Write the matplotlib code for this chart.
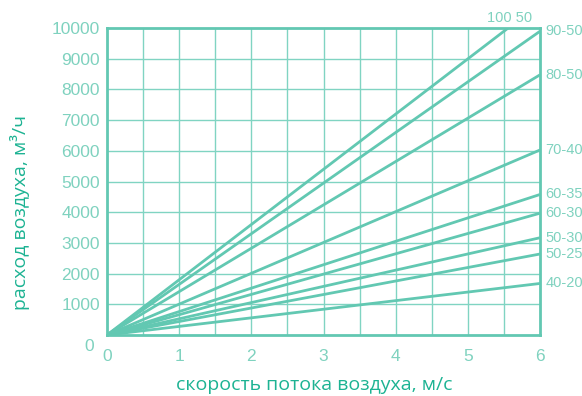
import matplotlib
matplotlib.use("Agg")
import matplotlib.pyplot as plt
import matplotlib.transforms as mtransforms

# duct sizes and air flow at 6 m/s (m3/h)
ducts = ["100 50", "90-50", "80-50", "70-40", "60-35", "60-30", "50-30", "50-25", "40-20"]
flow_at_6 = [10800, 9900, 8480, 6030, 4580, 3970, 3170, 2640, 1680]
v_end = [0, 6]

xticks = [0, 1, 2, 3, 4, 5, 6]
yticks = [0, 1000, 2000, 3000, 4000, 5000, 6000, 7000, 8000, 9000, 10000]

line_col = "#62c8b2"
grid_col = "#80d4c2"
tick_col = "#7fd2bf"
label_col = "#1db393"

W, H = 582, 396
fig = plt.figure(figsize=(W / 100, H / 100), dpi=100)
ax = fig.add_axes([0.1838, 0.154, 0.7442, 0.775])

for name, q in zip(ducts, flow_at_6):
    ax.plot(v_end, [0, q], color=line_col, lw=2.0, solid_capstyle="butt", zorder=3)
    if name == "100 50":
        ax.text(5.58, 10330, name, color=tick_col, fontsize=10.5, family="Liberation Sans",
                ha="center", va="center")
    else:
        ax.text(6.07, q, name, color=tick_col, fontsize=10.5, family="Liberation Sans",
                ha="left", va="center")

ax.set_xlim(0, 6)
ax.set_ylim(0, 10000)
ax.set_xticks(xticks)
ax.set_yticks(yticks)
for xg in [i * 0.5 for i in range(1, 12)]:
    ax.axvline(xg, color=grid_col, lw=1.0, zorder=1)
for yg in yticks[1:-1]:
    ax.axhline(yg, color=grid_col, lw=1.0, zorder=1)

for s in ax.spines.values():
    s.set_color(line_col)
    s.set_linewidth(2.0)

ax.tick_params(length=0, colors=tick_col, labelsize=12.5)
ax.tick_params(axis="x", pad=10)
ax.tick_params(axis="y", pad=5)
for lab in ax.get_xticklabels() + ax.get_yticklabels():
    lab.set_family("Liberation Sans")

# the zero on the y axis sits a bit lower
ylabs = ax.get_yticklabels()
off = mtransforms.ScaledTranslation(-6 / 100, -10 / 100, fig.dpi_scale_trans)
ylabs[0].set_transform(ylabs[0].get_transform() + off)

fig.text(314 / W, 1 - 385 / H, "скорость потока воздуха, м/с", color=label_col,
         fontsize=14, family="Open Sans", ha="center", va="center")
fig.text(20 / W, 1 - 212 / H, "расход воздуха, м³/ч", color=label_col,
         fontsize=14, family="Open Sans", ha="center", va="center", rotation=90)

fig.savefig("out.png", dpi=100)
